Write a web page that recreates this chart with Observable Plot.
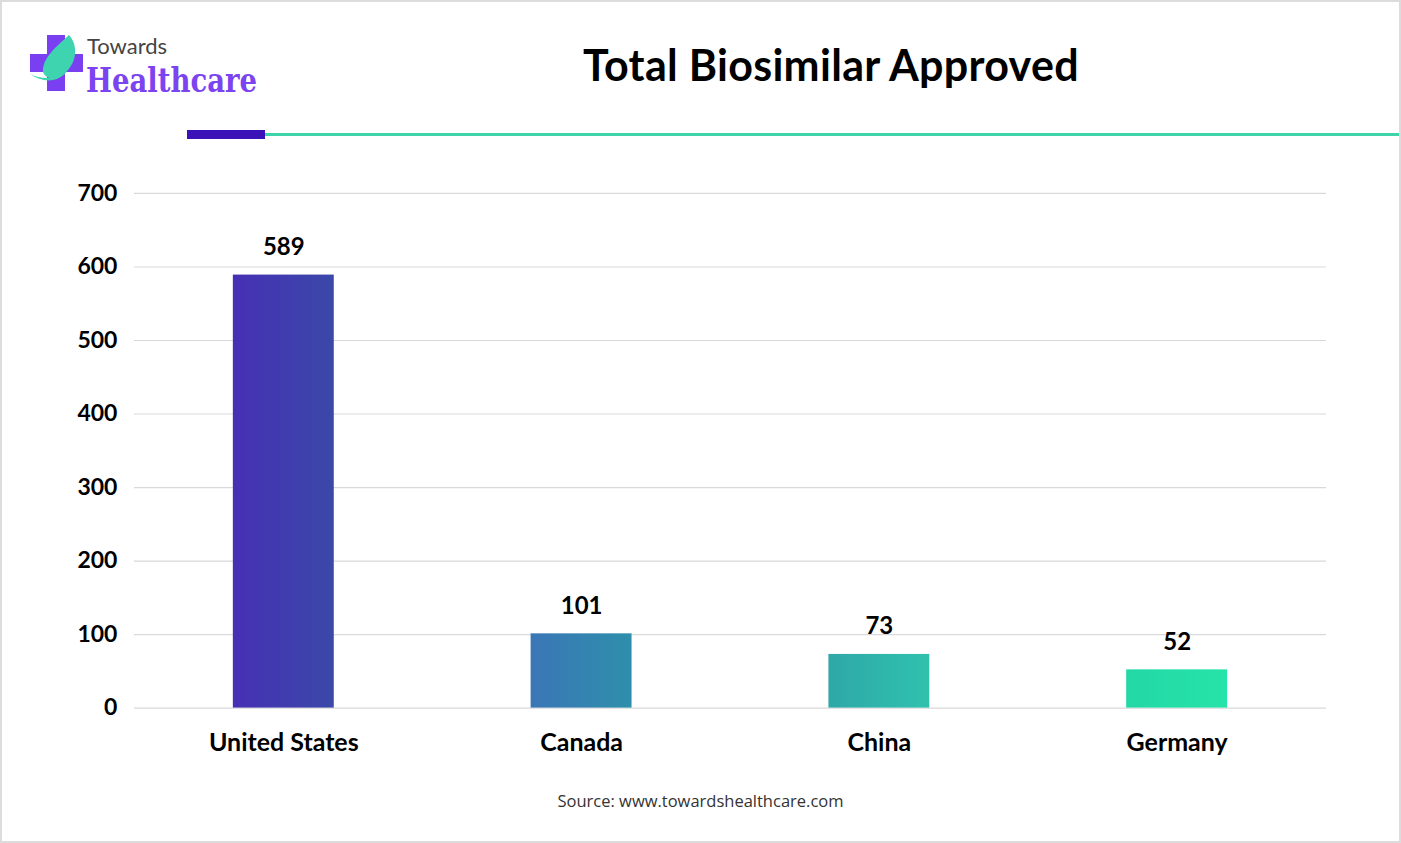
<!DOCTYPE html>
<html>
<head>
<meta charset="utf-8">
<script src="https://cdn.jsdelivr.net/npm/d3@7"></script>
<script src="https://cdn.jsdelivr.net/npm/@observablehq/plot@0.6"></script>
<style>
  html, body { margin: 0; padding: 0; background: #fff; }
  #page { position: relative; width: 1401px; height: 843px; box-sizing: border-box; border: 2px solid #dcdcdc; overflow: hidden; font-family: Lato, "Open Sans", sans-serif; }
  #logo { position: absolute; left: 0; top: 0; }
  #title { position: absolute; left: 479px; width: 700px; top: 37px; text-align: center; font-family: Lato, sans-serif; font-weight: 700; font-size: 43px; color: #000; letter-spacing: 0.3px; }
  #bar1 { position: absolute; left: 185px; top: 128px; width: 78px; height: 9px; background: #3a12b8; }
  #bar2 { position: absolute; left: 263px; top: 131px; width: 1140px; height: 3px; background: #3ed4a9; }
  #chart { position: absolute; left: -3px; top: 148px; }
  #source { position: absolute; left: 0; width: 1397px; top: 787px; text-align: center; font-family: "Open Sans", sans-serif; font-size: 16.5px; color: #333; }
</style>
</head>
<body>
<div id="page">
  <svg id="logo" width="300" height="110" xmlns="http://www.w3.org/2000/svg">
    <rect x="45" y="33" width="18" height="56" fill="#7b3ff2"/>
    <rect x="28" y="52" width="53" height="18" fill="#7b3ff2"/>
    <path d="M67,33 C78,45 74,66 58,74 C50,78 43,76 41,70 C40,56 55,44 67,33 Z" fill="#3ed4b0"/>
    <path d="M28,72 C40,78 55,78 66,68 C58,80 42,82 28,72 Z" fill="#3ed4b0"/>
    <text x="85" y="52" font-family="Lato, sans-serif" font-size="22" fill="#444">Towards</text>
    <text x="84" y="90" font-family="'DejaVu Serif', 'Liberation Serif', serif" font-weight="700" font-size="34" fill="#7b44f0" textLength="171" lengthAdjust="spacingAndGlyphs">Healthcare</text>
  </svg>
  <div id="title">Total Biosimilar Approved</div>
  <div id="bar1"></div>
  <div id="bar2"></div>
  <div id="chart"></div>
  <div id="source">Source: www.towardshealthcare.com</div>
</div>
<script>
const countries = ["United States", "Canada", "China", "Germany"];
const approved = [589, 101, 73, 52];
const yTicks = [0, 100, 200, 300, 400, 500, 600, 700];

const gradientStops = [
  ["#4630b4", "#3b48a9"],
  ["#3a76b6", "#2e8fab"],
  ["#2ea8a8", "#2fc2ae"],
  ["#22d8a5", "#26e3a9"]
];

const data = countries.map((c, i) => ({country: c, value: approved[i], grad: `url(#bargrad${i})`}));

const defsMark = () => {
  const ns = "http://www.w3.org/2000/svg";
  const defs = document.createElementNS(ns, "defs");
  gradientStops.forEach((s, i) => {
    const g = document.createElementNS(ns, "linearGradient");
    g.setAttribute("id", `bargrad${i}`);
    g.setAttribute("x1", "0"); g.setAttribute("x2", "1");
    g.setAttribute("y1", "0"); g.setAttribute("y2", "0");
    s.forEach((col, j) => {
      const st = document.createElementNS(ns, "stop");
      st.setAttribute("offset", j === 0 ? "0" : "1");
      st.setAttribute("stop-color", col);
      g.appendChild(st);
    });
    defs.appendChild(g);
  });
  return defs;
};

const chart = Plot.plot({
  width: 1401,
  height: 622,
  marginLeft: 135,
  marginRight: 73,
  marginTop: 43,
  marginBottom: 64,
  style: { fontFamily: "Lato, sans-serif", fontWeight: 700, fontSize: "22px", color: "#000", background: "transparent" },
  x: { domain: countries, paddingInner: 0.66, paddingOuter: 0.33, label: null },
  y: { domain: [0, 700], ticks: yTicks, label: null },
  color: { type: "identity" },
  marks: [
    defsMark,
    Plot.gridY(yTicks, { stroke: "#d9d9d9", strokeOpacity: 1, strokeWidth: 1.2 }),
    Plot.axisY(yTicks, { tickSize: 0, tickPadding: 17, fontSize: 23, fontWeight: 700, label: null }),
    Plot.axisX({ tickSize: 0, tickPadding: 25, fontSize: 25, fontWeight: 700, label: null }),
    Plot.barY(data, { x: "country", y: "value", fill: "grad" }),
    Plot.text(data, { x: "country", y: "value", text: d => String(d.value), dy: -20, lineAnchor: "bottom", fontSize: 24, fontWeight: 700, fill: "#000" })
  ]
});
document.getElementById("chart").appendChild(chart);
</script>
</body>
</html>
